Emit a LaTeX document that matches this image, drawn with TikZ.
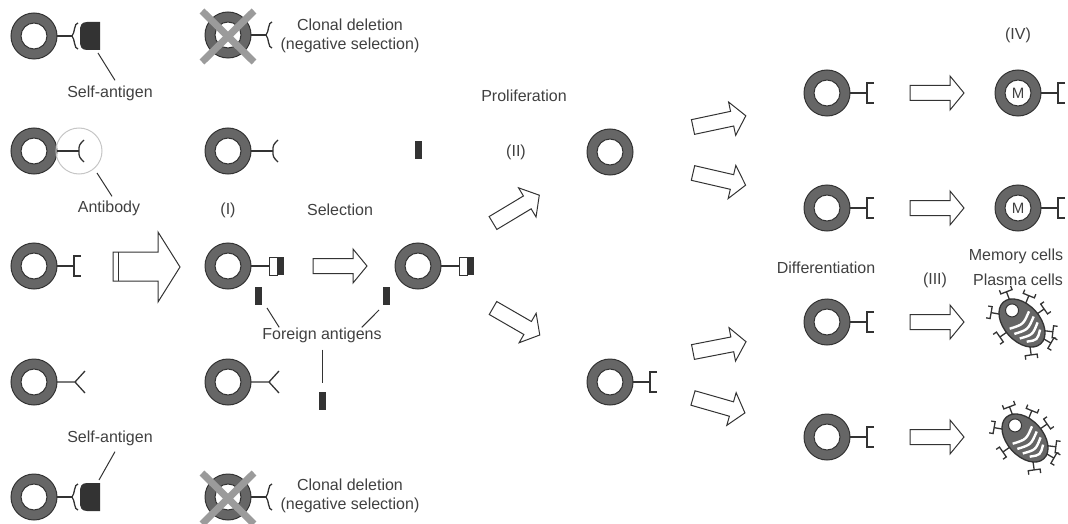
\documentclass[tikz,border=0pt]{standalone}
\usepackage{fontspec}
\setmainfont{Liberation Sans}
\usetikzlibrary{positioning}

\definecolor{ring}{HTML}{666666}
\definecolor{ink}{HTML}{333333}
\definecolor{txt}{HTML}{404040}
\definecolor{cross}{HTML}{9B9B9B}

\tikzset{
  lbl/.style={font=\fontsize{16}{19.5}\selectfont, text=txt, inner sep=0pt, align=center},
  leader/.style={draw=ink, line width=1pt},
  recep/.style={draw=ink, line width=1.3pt},
  pics/cell/.style={code={
      \filldraw[fill=ring, draw=ink, line width=1pt] (0,0) circle (23);
      \filldraw[fill=white, draw=ink, line width=1pt] (0,0) circle (13);
  }},
  pics/bracket/.style={code={
      \draw[recep] (23,0) -- (40,0) (47,-10) -- (40,-10) -- (40,10) -- (47,10);
  }},
  pics/brace/.style={code={
      \draw[recep] (23,0) -- (38,0);
      \draw[recep] (44,-13) .. controls (40,-13) and (41,-3) .. (38,0) .. controls (41,3) and (40,13) .. (44,13);
  }},
  pics/selfag/.style={code={
      \fill[ink] (66,-14) -- (53,-14) .. controls (47,-14) and (46,-10) .. (46,-5) -- (46,5) .. controls (46,10) and (47,14) .. (53,14) -- (66,14) -- cycle;
  }},
  pics/cup/.style={code={
      \draw[recep] (23,0) -- (45,0);
      \draw[recep] (50,-11) .. controls (45,-6) .. (45,0) .. controls (45,6) .. (50,11);
  }},
  pics/fork/.style={code={
      \draw[recep] (23,0) -- (41,0) -- (51,-11) (41,0) -- (51,11);
  }},
  pics/bound/.style={code={
      \draw[recep] (23,0) -- (41,0);
      \filldraw[fill=white, draw=ink, line width=1pt] (41,-9) rectangle (49,9);
      \fill[ink] (49,-9) rectangle (56,9);
  }},
  pics/antigen/.style={code={
      \fill[ink] (-3.5,-9) rectangle (3.5,9);
  }},
  pics/crossout/.style={code={
      \draw[cross, line width=7pt] (-26,-24) -- (26,27) (26,-24) -- (-26,27);
  }},
  pics/fatarrow/.style={code={
      \filldraw[fill=white, draw=ink, line width=1pt]
        (0,-7.5) -- (40,-7.5) -- (40,-17) -- (54,0) -- (40,17) -- (40,7.5) -- (0,7.5) -- cycle;
  }},
  pics/plasma/.style={code={
      \begin{scope}[rotate=-48]
        \foreach \t in {-159,-116,-83,-41,-18,34,97,142}
          \draw[recep, shift={(\t:27 and 17)}, rotate=-\t]
            (0,0) -- (9,0) (13,-6) -- (9,-6) -- (9,6) -- (13,6);
        \filldraw[fill=ring, draw=ink, line width=1.3pt] (0,0) ellipse (28 and 18);
        \foreach \s/\h in {-4/13,3/13,10/12,17/9}
          \draw[white, line width=2.4pt] (\s,-\h) .. controls (\s+6,0) .. (\s,\h);
        \filldraw[fill=white, draw=ink, line width=1pt] (-16,-1) circle (6.5);
      \end{scope}
  }},
}

\begin{document}
\begin{tikzpicture}[x=1pt, y=-1pt]
\useasboundingbox (0,0) rectangle (1068,524);

% repertoire
\pic at (34,36) {cell}; \pic at (34,36) {brace}; \pic at (34,36) {selfag};
\pic at (34,151) {cell}; \pic at (34,151) {cup};
\draw[gray!45, line width=1pt] (79,151) circle (23);
\pic at (34,266) {cell}; \pic at (34,266) {bracket};
\pic at (34,382) {cell}; \pic at (34,382) {fork};
\pic at (34,497) {cell}; \pic at (34,497) {brace}; \pic at (34,497) {selfag};

\coordinate (sa1) at (98,53);
\coordinate (ab1) at (97,173);
\coordinate (sa2) at (99,480);
\node[lbl] (selfT) at (110,93) {Self-antigen};
\draw[leader] (sa1) -- ([xshift=5pt,yshift=5pt]selfT.north);
\node[lbl] (abT) at (109,208) {Antibody};
\draw[leader] (ab1) -- ([xshift=3pt,yshift=4pt]abT.north);
\node[lbl] (selfB) at (110,438) {Self-antigen};
\draw[leader] ([xshift=5pt,yshift=-6pt]selfB.south) -- (sa2);

\filldraw[fill=white, draw=ink, line width=1pt] (113,252) -- (158,252) -- (158,232) -- (180,267) -- (158,302) -- (158,281) -- (113,281) -- cycle;
\draw[ink, line width=1pt] (118,252) -- (118,281);

% deletion and selection
\pic at (228,35) {cell}; \pic at (228,35) {brace}; \pic at (228,35) {crossout};
\node[lbl] (clonalT) at (350,36) {Clonal deletion\\(negative selection)};
\pic at (228,151) {cell}; \pic at (228,151) {cup};
\node[lbl] (labI) at (228,210) {(I)};
\pic at (228,266) {cell}; \pic at (228,266) {bound};
\pic at (228,382) {cell}; \pic at (228,382) {fork};
\pic at (228,497) {cell}; \pic at (228,497) {brace}; \pic at (228,497) {crossout};
\node[lbl] (clonalB) at (350,496) {Clonal deletion\\(negative selection)};

\node[lbl] (selT) at (340,210) {Selection};
\pic at (313,266) {fatarrow};
\pic at (418,266) {cell}; \pic at (418,266) {bound};
\pic at (418,150) {antigen};

\coordinate (fa1) at (258,296);
\coordinate (fa2) at (386,296);
\coordinate (fa3) at (322,401);
\pic at (fa1) {antigen}; \pic at (fa2) {antigen}; \pic at (fa3) {antigen};
\node[lbl] (foreign) at (322,335) {Foreign antigens};
\draw[leader] ([shift={(9,12)}]fa1) -- ([xshift=17pt]foreign.north west);
\draw[leader] ([shift={(-7,14)}]fa2) -- ([xshift=-20pt]foreign.north east);
\draw[leader] ([yshift=-7pt]foreign.south) -- ([shift={(0,-18)}]fa3);

% proliferation
\node[lbl] (prolif) at (524,96) {Proliferation};
\node[lbl] (labII) at (516,152) {(II)};
\pic[rotate=31] at (493,223) {fatarrow};
\pic[rotate=-30] at (493,308) {fatarrow};
\pic at (610,152) {cell};
\pic at (610,382) {cell}; \pic at (610,382) {bracket};
\pic[rotate=12] at (693,127) {fatarrow};
\pic[rotate=-13] at (693,173) {fatarrow};
\pic[rotate=11] at (693,352) {fatarrow};
\pic[rotate=-16] at (693,398) {fatarrow};

% differentiation
\foreach \y in {93,208,322,437} {
  \pic at (827,\y) {cell}; \pic at (827,\y) {bracket};
  \pic at (910,\y) {fatarrow};
}
\node[lbl] (diff) at (826,268) {Differentiation};
\node[lbl] (labIII) at (935,280) {(III)};
\node[lbl] (labIV) at (1018,35) {(IV)};

\pic at (1018,93) {cell}; \pic at (1018,93) {bracket};
\node[lbl, font=\fontsize{15}{18}\selectfont] (m1) at (1018,93) {M};
\pic at (1018,208) {cell}; \pic at (1018,208) {bracket};
\node[lbl, font=\fontsize{15}{18}\selectfont] (m2) at (1018,208) {M};
\node[lbl] (memory) at (1016,256) {Memory cells};
\node[lbl] (plasma) at (1018,280) {Plasma cells};
\pic at (1022,323) {plasma};
\pic at (1025,438) {plasma};
\end{tikzpicture}
\end{document}
